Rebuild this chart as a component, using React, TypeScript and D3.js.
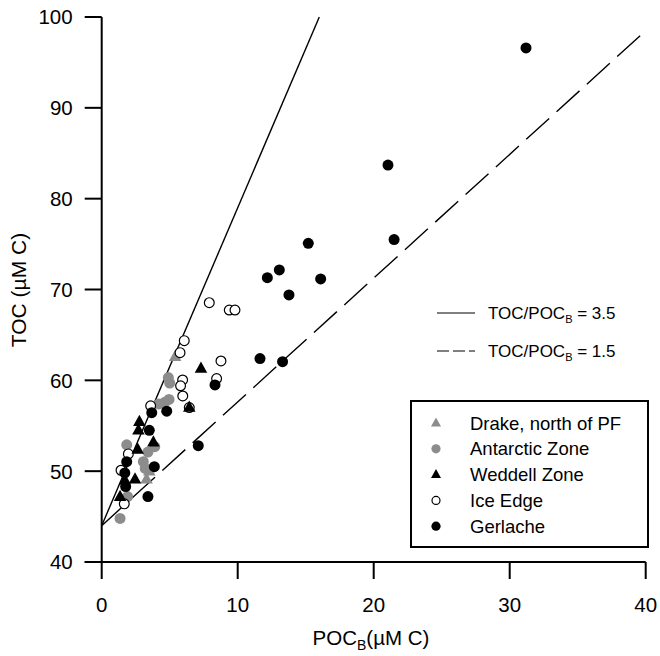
import React from "react";
import * as d3 from "d3";

const xTicks = [0, 10, 20, 30, 40];
const yTicks = [40, 50, 60, 70, 80, 90, 100];

const drake: [number, number][] = [
  [5.4, 62.6], [3.3, 49.1], [3.5, 50.0],
];
const antarctic: [number, number][] = [
  [4.9, 60.3], [5.0, 59.7], [4.65, 57.6], [4.95, 57.9], [4.2, 57.4],
  [1.84, 52.9], [3.9, 52.7], [3.4, 52.1], [3.06, 51.05], [3.2, 50.3],
  [1.9, 47.2], [1.35, 44.8],
];
const weddell: [number, number][] = [
  [7.3, 61.3], [6.44, 57.0], [2.77, 55.45], [2.7, 54.5], [2.65, 52.4],
  [3.8, 53.2], [2.45, 49.1], [1.7, 49.0], [1.35, 47.2],
];
const iceEdge: [number, number][] = [
  [7.91, 68.55], [9.38, 67.74], [9.8, 67.74], [6.07, 64.37], [5.76, 63.05],
  [8.77, 62.13], [8.45, 60.2], [5.95, 60.04], [5.8, 59.4], [5.96, 58.28],
  [3.6, 57.2], [6.44, 57.0], [1.96, 51.9], [1.42, 50.1], [1.66, 46.4],
];
const gerlache: [number, number][] = [
  [31.2, 96.6], [21.05, 83.7], [15.19, 75.09], [21.5, 75.5], [13.06, 72.15],
  [12.18, 71.3], [16.1, 71.16], [13.77, 69.4], [11.64, 62.4], [13.3, 62.05],
  [8.33, 59.5], [3.68, 56.44], [4.78, 56.6], [3.5, 54.5], [7.1, 52.8],
  [1.84, 51.05], [3.87, 50.5], [1.7, 49.8], [1.76, 48.3], [3.4, 47.2],
];

const solidLine: [number, number][] = [[0, 44], [16, 100]];
const dashedLine: [number, number][] = [[0, 44], [40, 98.5]];

const legendItems = [
  { label: "Drake, north of PF", shape: "tri", fill: "#8c8c8c", stroke: "none" },
  { label: "Antarctic Zone", shape: "circ", fill: "#8c8c8c", stroke: "none" },
  { label: "Weddell Zone", shape: "tri", fill: "#000", stroke: "none" },
  { label: "Ice Edge", shape: "circ", fill: "#fff", stroke: "#000" },
  { label: "Gerlache", shape: "circ", fill: "#000", stroke: "none" },
];

const FONT = "'Liberation Sans', Arial, Helvetica, sans-serif";

export default function App() {
  const W = 660, H = 656;
  const x = d3.scaleLinear().domain([0, 40]).range([101.7, 645.7]);
  const y = d3.scaleLinear().domain([40, 100]).range([562, 17]);
  const line = d3.line<[number, number]>().x(d => x(d[0])).y(d => y(d[1]));
  const triPath = (cx: number, cy: number, s: number) => {
    const h = s * 0.9;
    return `M${cx},${cy - h * 0.62}L${cx + s / 2},${cy + h * 0.38}L${cx - s / 2},${cy + h * 0.38}Z`;
  };
  const R = 5.5;
  const TS = 12.5;
  return (
    <svg width={W} height={H} style={{ position: "absolute", left: 0, top: 0, background: "#fff" }} fontFamily={FONT}>
      <rect width={W} height={H} fill="#fff" />
      <path d={line(solidLine) || ""} stroke="#000" strokeWidth={1.4} fill="none" />
      <path d={line(dashedLine) || ""} stroke="#000" strokeWidth={1.4} fill="none" strokeDasharray="31,10" />
      {antarctic.map((d, i) => (
        <circle key={"a" + i} cx={x(d[0])} cy={y(d[1])} r={R} fill="#8c8c8c" />
      ))}
      {drake.map((d, i) => (
        <path key={"d" + i} d={triPath(x(d[0]), y(d[1]), TS)} fill="#8c8c8c" />
      ))}
      {iceEdge.map((d, i) => (
        <circle key={"i" + i} cx={x(d[0])} cy={y(d[1])} r={R - 0.6} fill="#fff" stroke="#000" strokeWidth={1.2} />
      ))}
      {weddell.map((d, i) => (
        <path key={"w" + i} d={triPath(x(d[0]), y(d[1]), TS)} fill="#000" />
      ))}
      {gerlache.map((d, i) => (
        <circle key={"g" + i} cx={x(d[0])} cy={y(d[1])} r={R} fill="#000" />
      ))}
      <line x1={x(0)} x2={x(0)} y1={y(100)} y2={y(40)} stroke="#000" strokeWidth={2} />
      <line x1={x(0) - 17} x2={x(40)} y1={y(40)} y2={y(40)} stroke="#000" strokeWidth={2} />
      {yTicks.map(t => (
        <g key={"yt" + t}>
          <line x1={x(0) - 17} x2={x(0)} y1={y(t)} y2={y(t)} stroke="#000" strokeWidth={2} />
          <text x={x(0) - 29} y={y(t)} dy="0.36em" textAnchor="end" fontSize={20.5}>{t}</text>
        </g>
      ))}
      {xTicks.map(t => (
        <g key={"xt" + t}>
          <line x1={x(t)} x2={x(t)} y1={y(40)} y2={y(40) + 17} stroke="#000" strokeWidth={2} />
          <text x={x(t)} y={y(40) + 50} textAnchor="middle" fontSize={20.5}>{t}</text>
        </g>
      ))}
      <text x={371} y={645} textAnchor="middle" fontSize={20.5}>
        POC<tspan fontSize={14} dy={5}>B</tspan><tspan dy={-5}>(µM C)</tspan>
      </text>
      <text transform="translate(26,290) rotate(-90)" textAnchor="middle" fontSize={21}>TOC (µM C)</text>
      <line x1={437} x2={475} y1={313} y2={313} stroke="#000" strokeWidth={1.2} />
      <text x={488} y={319} fontSize={17}>
        TOC/POC<tspan fontSize={11} dy={4}>B</tspan><tspan dy={-4}> = 3.5</tspan>
      </text>
      <line x1={437} x2={475} y1={351} y2={351} stroke="#000" strokeWidth={1.2} strokeDasharray="12,4" />
      <text x={488} y={357} fontSize={17}>
        TOC/POC<tspan fontSize={11} dy={4}>B</tspan><tspan dy={-4}> = 1.5</tspan>
      </text>
      <rect x={411} y={401} width={237} height={146} fill="#fff" stroke="#000" strokeWidth={2} />
      {legendItems.map((it, i) => {
        const cy = 423 + i * 25.8;
        return (
          <g key={"l" + i}>
            {it.shape === "tri" ? (
              <path d={triPath(436, cy, 10)} fill={it.fill} />
            ) : (
              <circle cx={436} cy={cy} r={it.stroke === "none" ? 4.6 : 4} fill={it.fill} stroke={it.stroke} strokeWidth={1.2} />
            )}
            <text x={470} y={cy} dy="0.36em" fontSize={18.5}>{it.label}</text>
          </g>
        );
      })}
    </svg>
  );
}
